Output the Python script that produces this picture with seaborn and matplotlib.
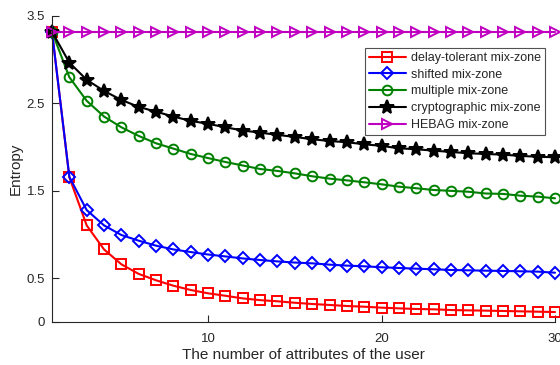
import matplotlib
matplotlib.use("Agg")
import matplotlib.pyplot as plt
import seaborn as sns
import numpy as np

x_vals = list(range(1, 31))

delay_tolerant = [3.32, 1.655, 1.105, 0.83, 0.66, 0.55, 0.477, 0.415, 0.366, 0.328,
                  0.30, 0.27, 0.25, 0.237, 0.22, 0.206, 0.195, 0.183, 0.175, 0.164,
                  0.156, 0.149, 0.145, 0.137, 0.133, 0.13, 0.126, 0.122, 0.118, 0.114]
shifted = [3.32, 1.66, 1.28, 1.105, 0.995, 0.93, 0.873, 0.83, 0.80, 0.772,
           0.75, 0.727, 0.709, 0.693, 0.68, 0.671, 0.656, 0.645, 0.637, 0.626,
           0.618, 0.61, 0.603, 0.595, 0.591, 0.587, 0.584, 0.58, 0.576, 0.564]
multiple = [3.32, 2.80, 2.53, 2.35, 2.227, 2.128, 2.044, 1.983, 1.922, 1.875,
            1.83, 1.79, 1.75, 1.728, 1.70, 1.667, 1.64, 1.62, 1.598, 1.575,
            1.548, 1.53, 1.51, 1.50, 1.49, 1.47, 1.465, 1.445, 1.434, 1.415]
cryptographic = [3.32, 2.967, 2.77, 2.643, 2.54, 2.46, 2.406, 2.35, 2.30, 2.267,
                 2.227, 2.19, 2.166, 2.14, 2.117, 2.09, 2.07, 2.056, 2.033, 2.014,
                 1.987, 1.976, 1.96, 1.945, 1.93, 1.922, 1.914, 1.90, 1.89, 1.884]
hebag = [3.32] * 30

series_names = ["delay-tolerant mix-zone", "shifted mix-zone", "multiple mix-zone",
                "cryptographic mix-zone", "HEBAG mix-zone"]
series_values = [delay_tolerant, shifted, multiple, cryptographic, hebag]
colors = ["#ff0000", "#0000ff", "#008000", "#000000", "#c000c0"]
markers = ["s", "D", "o", "*", ">"]
msizes = [6.5, 6, 7, 10, 7]
filled = [False, False, False, True, False]

x_ticks = [10, 20, 30]
y_ticks = [0, 0.5, 1.5, 2.5, 3.5]
y_ticklabels = ["0", "0.5", "1.5", "2.5", "3.5"]

sns.set_style("ticks")
plt.rcParams["font.family"] = ["Liberation Sans", "DejaVu Sans"]

fig = plt.figure(figsize=(5.6, 3.65), dpi=100)
ax = fig.add_axes([52/560, 1 - 322/365, (555-52)/560, (322-16)/365])

for name, vals, c, m, ms, f in zip(series_names, series_values, colors, markers, msizes, filled):
    sns.lineplot(x=x_vals, y=vals, ax=ax, color=c, marker=m, markersize=ms,
                 markerfacecolor=(c if f else "none"), markeredgecolor=c,
                 markeredgewidth=1.4, linewidth=1.5, label=name, clip_on=False)

ax.set_xlim(1, 30)
ax.set_ylim(0, 3.5)
ax.set_xticks(x_ticks)
ax.set_yticks(y_ticks)
ax.set_yticklabels(y_ticklabels)
for s in ["top", "right"]:
    ax.spines[s].set_visible(False)
for s in ["left", "bottom"]:
    ax.spines[s].set_color("#262626")
    ax.spines[s].set_linewidth(0.8)
ax.tick_params(direction="in", length=5, width=0.8, colors="#262626",
               labelsize=9.5, labelcolor="#262626")
ax.tick_params(axis="x", pad=8)
ax.tick_params(axis="y", pad=5)
ax.set_xlabel("The number of attributes of the user", fontsize=11, color="#262626", labelpad=2)
ax.set_ylabel("Entropy", fontsize=11, color="#262626")
ax.yaxis.set_label_coords(-0.058, 0.5)

leg = ax.legend(loc="upper right", bbox_to_anchor=(0.98, 0.895), borderaxespad=0,
                fontsize=9, frameon=True, fancybox=False, edgecolor="#262626",
                handlelength=3.0, handletextpad=0.4, labelspacing=0.38,
                borderpad=0.3)
leg.get_frame().set_linewidth(0.8)

fig.savefig("out.png", dpi=100)
